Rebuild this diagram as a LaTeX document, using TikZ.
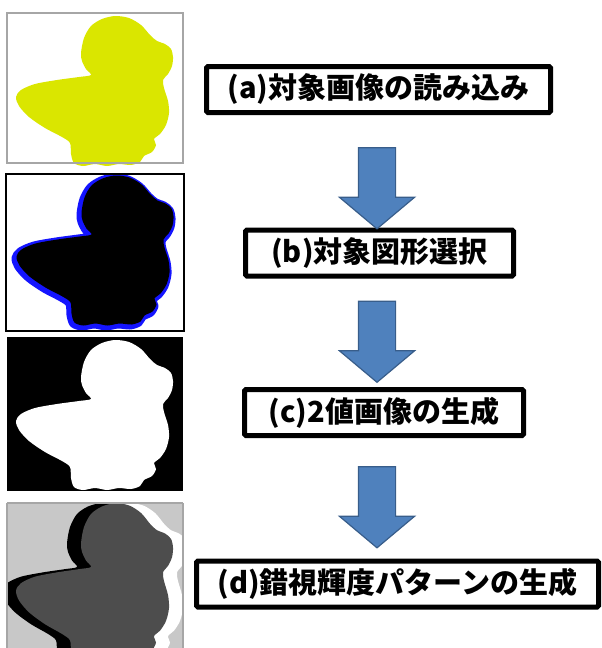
\documentclass[tikz,border=0pt]{standalone}
\usepackage{fontspec}
\setmainfont{Noto Sans CJK JP}
\usetikzlibrary{shapes.arrows}

\definecolor{duckyellow}{RGB}{218,230,0}
\definecolor{glowblue}{RGB}{20,20,255}
\definecolor{arrowblue}{RGB}{79,129,189}
\definecolor{arrowedge}{RGB}{56,93,138}
\definecolor{panelgray}{RGB}{200,200,200}
\definecolor{duckgray}{RGB}{77,77,77}

% outline of the duck, in px from the panel's top left corner
\newcommand{\duck}{plot[smooth cycle,tension=0.5] coordinates {
  (74,40) (77,25) (84,13) (95,6) (108,3) (122,5) (134,12) (143,22)
  (150,28) (158,31) (164,36) (166,44) (165,53) (161,61) (156,67)
  (157,75) (161,88) (162,100) (159,112) (153,121) (147,126)
  (149,132) (145,139) (137,143) (133,149) (124,152) (112,151)
  (100,153) (88,151) (76,153) (67,150) (64,141) (63,130) (55,124)
  (38,115) (22,104) (12,93) (9,84) (14,77) (28,71) (50,67) (72,64)
  (84,62) (79,56) (75,48)}}

\begin{document}
\begin{tikzpicture}[x=1pt,y=-1pt,
  stepbox/.style={draw,line width=5pt,rounded corners=1.5pt,inner sep=0pt,
    minimum height=46pt,font=\fontsize{29}{31}\selectfont\bfseries},
  downarrow/.style={single arrow,draw=arrowedge,fill=arrowblue,line width=1.2pt,
    rotate=-90,minimum height=81pt,inner xsep=0pt,inner ysep=18pt,
    single arrow head extend=19pt,single arrow head indent=0pt,
    single arrow tip angle=100}]
\useasboundingbox (0,0) rectangle (602,648);

% (a) input picture
\begin{scope}[shift={(7,13)}]
\fill[duckyellow] \duck;
\end{scope}
\draw[gray!70,line width=1.5pt] (7,13) rectangle (183,163);

% (b) selected shape
\begin{scope}[shift={(6,174)}]
\draw[glowblue,line width=7pt,line join=round] \duck;
\fill[black,shift={(1.5,-1.5)}] \duck;
\end{scope}
\draw[line width=1.5pt] (6,174) rectangle (184,331);

% (c) binary picture
\fill[black] (7,337) rectangle (183,491);
\begin{scope}[shift={(7,337)}]
\fill[white] \duck;
\end{scope}

% (d) illusion pattern
\begin{scope}
\clip (7,503) rectangle (183,648);
\fill[panelgray] (7,503) rectangle (183,648);
\begin{scope}[shift={(21,500)},yscale=1.08]
\fill[white] \duck;
\end{scope}
\begin{scope}[shift={(-7,500)},yscale=1.08]
\fill[black] \duck;
\end{scope}
\begin{scope}[shift={(7,500)},yscale=1.08]
\fill[duckgray] \duck;
\end{scope}
\end{scope}
\draw[gray!70,line width=1.5pt] (7,503) -- (183,503) (7,503) -- (7,648) (183,503) -- (183,648);

\node[stepbox,minimum width=344pt] (load) at (378.5,89.5) {(a)対象画像の読み込み};
\node[stepbox,minimum width=268pt] (select) at (379.5,253) {(b)対象図形選択};
\node[stepbox,minimum width=279pt] (binary) at (384,412.5) {(c)2値画像の生成};
\node[stepbox,minimum width=402pt] (pattern) at (397.5,584) {(d)錯視輝度パターンの生成};

\node[downarrow] (arr1) at (377,180.5) {};
\node[downarrow] (arr2) at (377,334) {};
\node[downarrow] (arr3) at (377,499.5) {};

\end{tikzpicture}
\end{document}
